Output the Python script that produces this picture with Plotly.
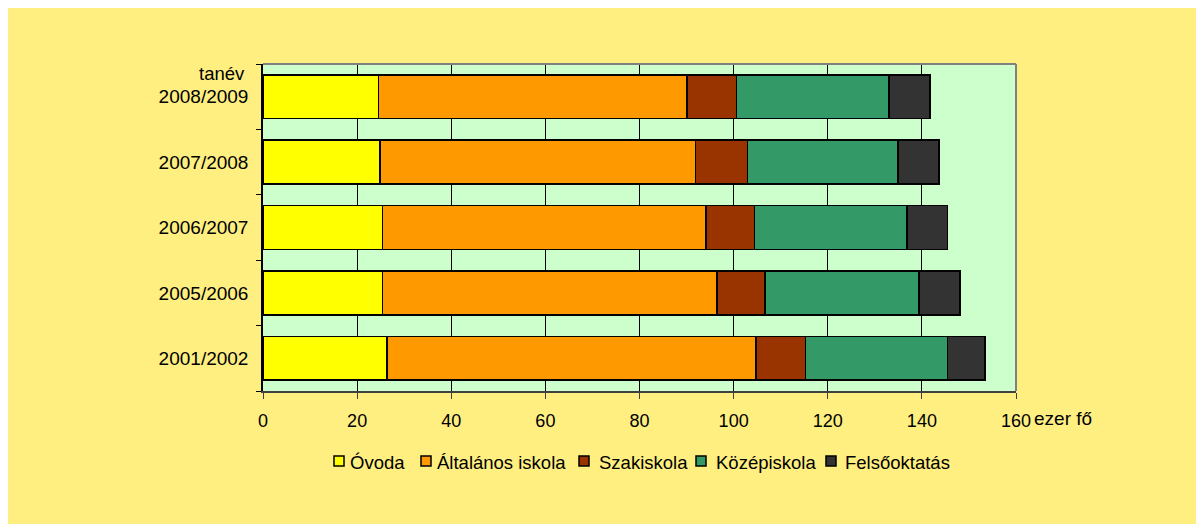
import plotly.graph_objects as go

categories = ["2001/2002", "2005/2006", "2006/2007", "2007/2008", "2008/2009"]
ovoda = [26.4, 25.4, 25.4, 24.9, 24.5]
altalanos = [78.4, 71.1, 68.7, 67.0, 65.6]
szakiskola = [10.5, 10.2, 10.3, 11.0, 10.5]
kozepiskola = [30.1, 32.7, 32.4, 32.0, 32.4]
felsooktatas = [8.0, 8.7, 8.6, 8.7, 8.7]
x_ticks = [0, 20, 40, 60, 80, 100, 120, 140, 160]
series_names = ["Óvoda", "Általános iskola", "Szakiskola", "Középiskola", "Felsőoktatás"]

series_values = [ovoda, altalanos, szakiskola, kozepiskola, felsooktatas]
colors = ["#FFFF00", "#FF9900", "#993300", "#339966", "#333333"]

FONT = "Liberation Sans, Arial, sans-serif"

fig = go.Figure()
for name, vals, col in zip(series_names, series_values, colors):
    fig.add_trace(go.Bar(
        y=categories, x=vals, name=name, orientation="h",
        marker=dict(color=col, line=dict(color="#000000", width=1.5)),
        hoverinfo="x+y+name", showlegend=False,
    ))

# page has an 8px body margin; screen coords -> figure coords
OFF = 8
W, H = 1204, 524
L, R, T, B = 263, 1016, 64, 391  # plot area in screen pixels
pw, ph = R - L, B - T


def px_x(p):
    return (p - L) / pw


def px_y(p):
    return (B - p) / ph


shapes = [
    dict(type="line", xref="paper", yref="paper", x0=0, x1=1, y0=1, y1=1,
         line=dict(color="#808080", width=2)),
    dict(type="line", xref="paper", yref="paper", x0=1, x1=1, y0=0, y1=1,
         line=dict(color="#808080", width=2)),
]
annotations = [
    dict(text="tanév", xref="paper", yref="paper", x=px_x(247), y=px_y(74),
         xanchor="right", yanchor="middle", showarrow=False, font=dict(size=18.5, family=FONT)),
    dict(text="ezer fő", xref="paper", yref="paper", x=px_x(1032), y=px_y(418),
         xanchor="left", yanchor="middle", showarrow=False, font=dict(size=19, family=FONT)),
]

# manual legend (box left edge, text left edge in screen px)
legend_pos = [(334, 348), (421, 435), (579, 597), (696, 714), (826, 843)]
ly = 461
for (bx, tx), name, col in zip(legend_pos, series_names, colors):
    shapes.append(dict(type="rect", xref="paper", yref="paper",
                       x0=px_x(bx), x1=px_x(bx + 10), y0=px_y(ly + 5), y1=px_y(ly - 5),
                       fillcolor=col, line=dict(color="#000000", width=1.5)))
    annotations.append(dict(text=name, xref="paper", yref="paper", x=px_x(tx), y=px_y(ly + 1),
                            xanchor="left", yanchor="middle", showarrow=False,
                            font=dict(size=18.5, family=FONT)))

fig.update_layout(
    width=W, height=H,
    barmode="stack",
    bargap=0.33,
    paper_bgcolor="#FFEF80",
    plot_bgcolor="#CCFFCC",
    margin=dict(l=L - OFF, r=W - (R - OFF), t=T - OFF, b=H - (B - OFF), pad=0),
    font=dict(family=FONT, size=18, color="#000000"),
    shapes=shapes,
    annotations=annotations,
    showlegend=False,
    xaxis=dict(range=[0, 160], tickvals=x_ticks, ticktext=[str(v) for v in x_ticks],
               showgrid=True, gridcolor="#000000", gridwidth=1,
               ticks="outside", ticklen=6, tickcolor="#404040",
               showline=True, linecolor="#404040", linewidth=2,
               zeroline=False, ticklabelstandoff=6,
               tickfont=dict(size=18, family=FONT)),
    yaxis=dict(categoryorder="array", categoryarray=categories,
               ticks="outside", ticklen=5, tickcolor="#000000", tickson="boundaries",
               showline=True, linecolor="#000000", linewidth=1.5,
               showgrid=False, ticklabelstandoff=9,
               tickfont=dict(size=19, family=FONT)),
)

fig.write_html("out.html")
